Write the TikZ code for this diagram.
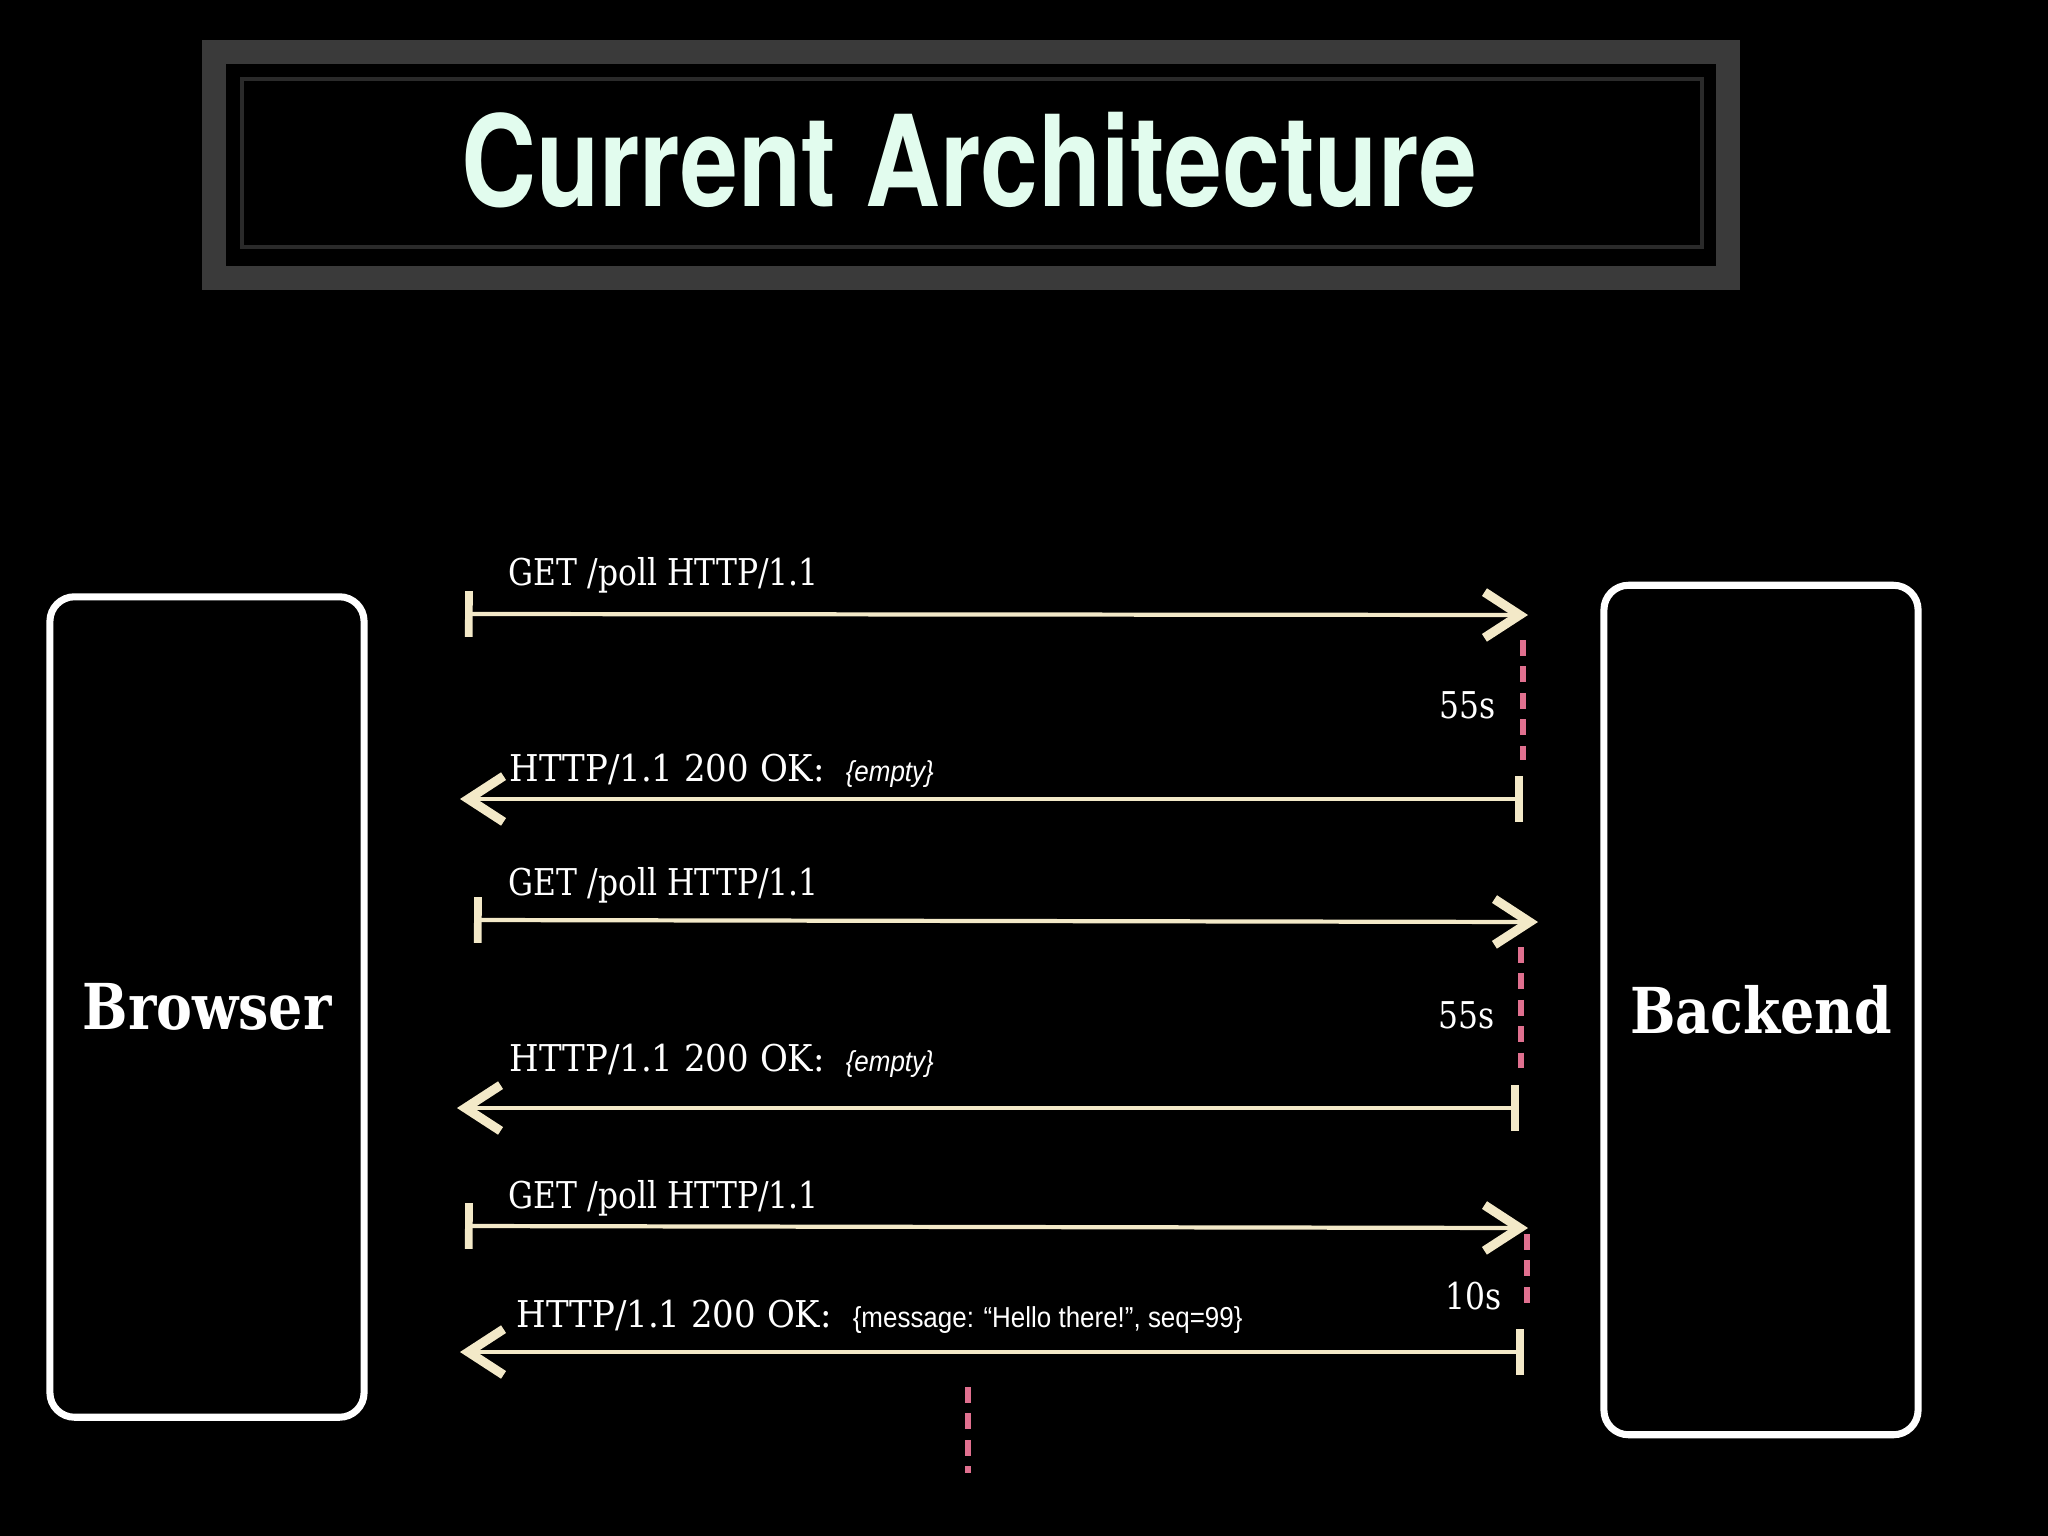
\documentclass[tikz,border=0pt]{standalone}
\usepackage{fontspec}
\usepackage{xcolor}
\usetikzlibrary{arrows.meta}

\setmainfont{DejaVu Serif}
\newfontfamily\titlefont{TeX Gyre Heros}[FakeStretch=0.82]
\newfontfamily\typefont{DejaVu Serif}[FakeStretch=0.85]
\newfontfamily\replyfont{DejaVu Serif}[FakeStretch=0.92]
\newfontfamily\slabfont{DejaVu Serif}[FakeStretch=0.85]
\newfontfamily\helvfont{Liberation Sans}[FakeStretch=0.9]
\newcommand\msgbody{\hspace{6pt}\helvfont\fontsize{8.2}{9}\selectfont}

\definecolor{chalk}{HTML}{F3E9C8}
\definecolor{mint}{HTML}{E2FCEE}
\definecolor{rosa}{HTML}{E0708F}
\definecolor{band}{HTML}{3A3A3A}
\definecolor{thinband}{HTML}{2A2A2A}

\begin{document}
\begin{tikzpicture}[x=0.01cm, y=-0.01cm,
	party/.style = {draw=white, line width=2pt, rounded corners=7pt,
		minimum width=3.14cm, text=white,
		font=\slabfont\bfseries\fontsize{18}{20}\selectfont},
	msg/.style = {draw=chalk, line width=1.2pt,
		{Bar[width=13pt,line width=2.2pt]}-{Straight Barb[length=10pt,width=13pt,line width=2.6pt]}},
	wait/.style = {draw=rosa, line width=1.5pt, dash pattern=on 4.5pt off 3pt},
	lbl/.style = {anchor=base west, inner sep=0pt, text=white,
		font=\typefont\fontsize{10.5}{12}\selectfont},
	reply/.style = {lbl, font=\replyfont\fontsize{10.5}{12}\selectfont},
	dur/.style = {anchor=base, inner sep=0pt, text=white,
		font=\typefont\fontsize{10.5}{12}\selectfont}]
	%\draw[help lines] (0,0) grid (2048,1536);
	\fill[black] (0,0) rectangle (2048,1536);
	\useasboundingbox (0,0) rectangle (2048,1536);
	
	% title
	\draw[band, line width=6.8pt] (214,52) rectangle (1728,278);
	\draw[thinband, line width=0.9pt] (242,79) rectangle (1702,247);
	\node[anchor=base, text=mint, font=\titlefont\bfseries\fontsize{36}{40}\selectfont]
		(heading) at (969,206) {Current Architecture};
	
	% the two ends
	\node[party, minimum height=8.2cm] (browser) at (207,1007) {Browser};
	\node[party, minimum height=8.49cm] (backend) at (1761,1010) {Backend};
	
	% first poll
	\coordinate (q1s) at (465,614);
	\coordinate (q1e) at (1528,615);
	\coordinate (r1s) at (1523,799);
	\coordinate (r1e) at (460,799);
	\coordinate (w1a) at (1523,640);
	\coordinate (w1b) at (1523,760);
	\draw[msg] (q1s) -- (q1e);
	\draw[wait] (w1a) -- (w1b);
	\draw[msg] (r1s) -- (r1e);
	\node[lbl] (q1) at (508,585) {GET /poll HTTP/1.1};
	\node[dur] (t1) at (1468,718) {55s};
	\node[reply] (r1) at (509,781) {HTTP/1.1 200 OK:{\msgbody\itshape\{empty\}}};
	
	% second poll
	\coordinate (q2s) at (474,920);
	\coordinate (q2e) at (1538,922);
	\coordinate (r2s) at (1519,1108);
	\coordinate (r2e) at (457,1108);
	\coordinate (w2a) at (1521,947);
	\coordinate (w2b) at (1521,1071);
	\draw[msg] (q2s) -- (q2e);
	\draw[wait] (w2a) -- (w2b);
	\draw[msg] (r2s) -- (r2e);
	\node[lbl] (q2) at (508,895) {GET /poll HTTP/1.1};
	\node[dur] (t2) at (1467,1028) {55s};
	\node[reply] (r2) at (509,1071) {HTTP/1.1 200 OK:{\msgbody\itshape\{empty\}}};
	
	% third poll, with data
	\coordinate (q3s) at (465,1226);
	\coordinate (q3e) at (1528,1228);
	\coordinate (r3s) at (1524,1352);
	\coordinate (r3e) at (460,1352);
	\coordinate (w3a) at (1527,1234);
	\coordinate (w3b) at (1527,1313);
	\draw[msg] (q3s) -- (q3e);
	\draw[wait] (w3a) -- (w3b);
	\draw[msg] (r3s) -- (r3e);
	\node[lbl] (q3) at (508,1208) {GET /poll HTTP/1.1};
	\node[dur] (t3) at (1474,1309) {10s};
	\node[reply] (r3) at (516,1327) {HTTP/1.1 200 OK:{\msgbody\{message: “Hello there!”, seq=99\}}};
	
	% next one waiting
	\coordinate (w4a) at (968,1387);
	\coordinate (w4b) at (968,1473);
	\draw[wait] (w4a) -- (w4b);
\end{tikzpicture}
\end{document}
